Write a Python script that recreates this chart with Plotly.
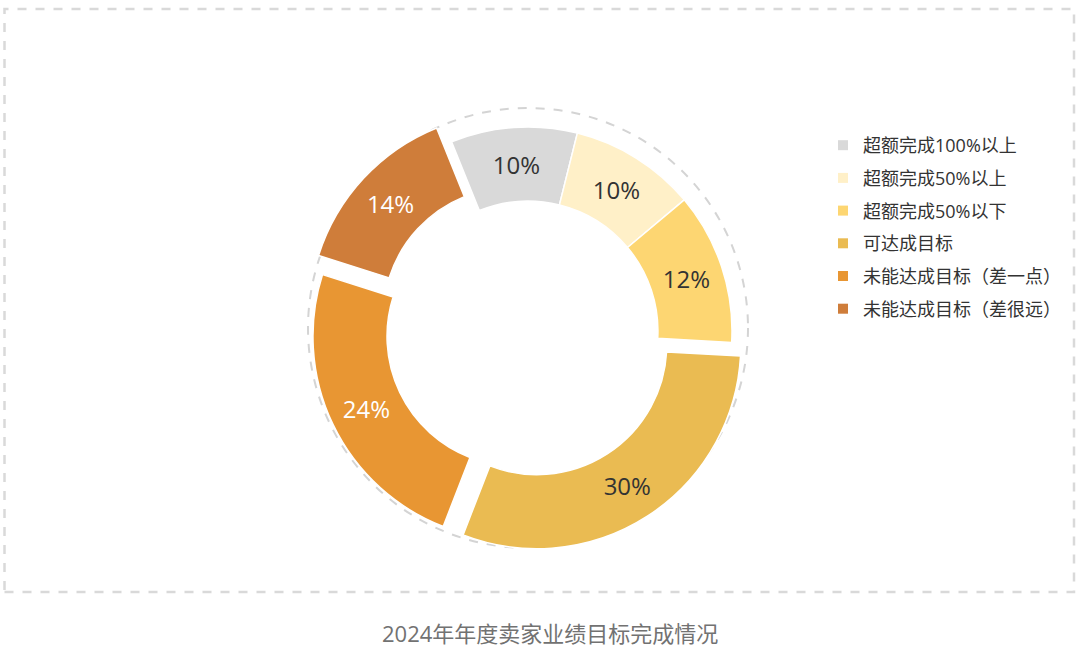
import plotly.graph_objects as go

# ---- data ----
labels = ["超额完成100%以上", "超额完成50%以上", "超额完成50%以下", "可达成目标",
          "未能达成目标（差一点）", "未能达成目标（差很远）"]
values = [10, 10, 12, 30, 24, 14]
colors = ["#d9d9d9", "#fff0c8", "#fdd672", "#eabb52", "#e89633", "#cf7d3a"]
text_colors = ["#333333", "#333333", "#333333", "#333333", "#ffffff", "#ffffff"]
pulls = [0, 0, 0, 0.08, 0.06, 0.1]
caption = "2024年年度卖家业绩目标完成情况"

W, H = 1080, 653
FONT = "Open Sans, Noto Sans CJK SC, sans-serif"


def px(X):
    return X / W


def py(Y):
    return 1 - Y / H


fig = go.Figure()

# donut
cx, cy, R = 528, 331, 204
half = R * 1.1
fig.add_trace(go.Pie(
    labels=labels, values=values, sort=False, direction="clockwise",
    rotation=-22, hole=0.637, pull=pulls,
    marker=dict(colors=colors, line=dict(color="white", width=1.5)),
    texttemplate="%{percent:.0%}", textposition="inside",
    insidetextorientation="horizontal",
    textfont=dict(size=24, color=text_colors, family=FONT),
    showlegend=False,
    domain=dict(x=[px(cx - half), px(cx + half)],
                y=[py(cy + half), py(cy - half)]),
))

# legend entries (one per category)
for lab, col in zip(labels, colors):
    fig.add_trace(go.Scatter(
        x=[None], y=[None], mode="markers", name=lab, legendgroup=lab,
        marker=dict(symbol="square", size=10, color=col),
    ))

fig.update_layout(
    width=W, height=H,
    margin=dict(l=0, r=0, t=0, b=0),
    paper_bgcolor="white", plot_bgcolor="white",
    xaxis=dict(visible=False), yaxis=dict(visible=False),
    font=dict(family=FONT, color="#333333"),
    legend=dict(x=px(863 - 40), y=py(127), xanchor="left", yanchor="top",
                font=dict(size=18, color="#333333", family=FONT),
                tracegroupgap=6.3, bgcolor="rgba(0,0,0,0)"),
    shapes=[
        dict(type="rect", xref="paper", yref="paper",
             x0=px(4.5), x1=px(1074), y0=py(592), y1=py(9),
             line=dict(color="#d9d9d9", width=2.5, dash="dash"), layer="below"),
        dict(type="circle", xref="paper", yref="paper",
             x0=px(528 - 220), x1=px(528 + 220), y0=py(548), y1=py(108),
             line=dict(color="#d4d4d4", width=2, dash="dash"), layer="below"),
    ],
    annotations=[
        dict(text=caption, xref="paper", yref="paper", x=px(550), y=py(633),
             xanchor="center", yanchor="middle", showarrow=False,
             font=dict(size=22, color="#727272", family=FONT)),
    ],
)

fig.write_html(
    "out.html",
    config={"displayModeBar": False},
    post_script="document.body.style.margin='0';"
                "document.documentElement.style.overflow='hidden';",
)
